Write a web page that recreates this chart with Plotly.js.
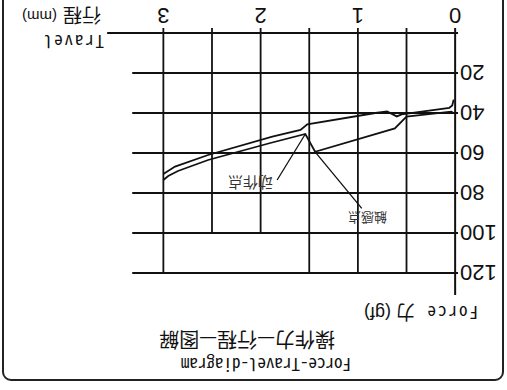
<!DOCTYPE html>
<html><head><meta charset="utf-8">
<script src="https://cdn.plot.ly/plotly-3.0.1.min.js"></script>
<style>
html,body{margin:0;padding:0;background:#fff;overflow:hidden}
#wrap{position:relative;width:507px;height:390px;transform:rotate(180deg);transform-origin:50% 50%;overflow:hidden;background:#fff}
#frame{position:absolute;left:3px;top:9px;width:498px;height:420px;border:2px solid #222;border-radius:9px;box-sizing:content-box}
#chart{position:absolute;left:0;top:0;width:507px;height:390px}
text[data-unformatted="Force"]{letter-spacing:2px}
text[data-unformatted="Travel"]{letter-spacing:1.8px}
</style>
</head><body>
<div id="wrap"><div id="frame"></div><div id="chart"></div></div>
<script>
// ---- data (travel in mm, force in gf) ----
const pressTravel   = [0.015, 0.04, 0.50, 0.62, 1.44, 1.54, 1.90, 2.54, 2.85, 2.95, 3.00];
const pressForce    = [40.0, 39.3, 41.8, 47.7, 59.4, 50.5, 55.0, 63.5, 69.0, 71.5, 73.5];
const releaseTravel = [0.015, 0.03, 0.06, 0.55, 0.60, 0.70, 0.82, 1.52, 1.59, 1.88, 2.54, 2.88, 3.00];
const releaseForce  = [33.3, 36.2, 37.4, 40.7, 41.7, 39.2, 40.0, 45.7, 48.5, 51.8, 61.0, 66.8, 70.5];
const actLeaderTravel = [1.54, 1.83];
const actLeaderForce  = [50.5, 73.5];
const tacLeaderTravel = [1.44, 0.96];
const tacLeaderForce  = [59.4, 87.7];
const labelTexts  = ['动作点', '触感点'];
const labelTravel = [2.106, 0.899];
const labelForce  = [75.5, 92.75];
const xTickVals = [0, 1, 2, 3];
const xTickText = ['0', '1', '2', '3'];
const yTickVals = [20, 40, 60, 80, 100, 120];
const yTickText = ['20', '40', '60', '80', '100', '120'];
const gridTravel = [0.5, 1, 1.5, 2, 2.5, 3];
const gridTravelTop = [120, 120, 120, 100, 100, 120];
const gridForce = [20, 40, 60, 80, 100, 120];
const titleEn = 'Force-Travel-diagram';
const titleZh = '操作力—行程—图解';

// ---- layout geometry ----
const L = 47.13, W = 355.3, T = 93, H = 272;
const px = x => (x - L) / W;
const py = y => (T + H - y) / H;
const INK = '#111';
const mono = 'Noto Sans Mono CJK SC, DejaVu Sans Mono, monospace';
const cjk = 'Noto Sans CJK SC, sans-serif';
const sans = 'Liberation Sans, Arial, sans-serif';

const shapes = [];
gridForce.forEach(f => shapes.push({type:'line', xref:'x', yref:'y', x0:-0.03, x1:3.32, y0:f, y1:f, layer:'below', line:{color:INK, width:1.8}}));
gridTravel.forEach((t, i) => shapes.push({type:'line', xref:'x', yref:'y', x0:t, x1:t, y0:-2.5, y1:gridTravelTop[i], layer:'below', line:{color:INK, width:1.8}}));
shapes.push({type:'line', xref:'x', yref:'y', x0:-0.03, x1:3.578, y0:0, y1:0, layer:'below', line:{color:INK, width:2}});
shapes.push({type:'line', xref:'x', yref:'y', x0:0, x1:0, y0:-2.5, y1:131, layer:'below', line:{color:INK, width:2}});

const lineStyle = {color:INK, width:1.8, shape:'linear'};
const traces = [
  {x:pressTravel, y:pressForce, mode:'lines', line:lineStyle, hoverinfo:'skip'},
  {x:releaseTravel, y:releaseForce, mode:'lines', line:lineStyle, hoverinfo:'skip'},
  {x:actLeaderTravel, y:actLeaderForce, mode:'lines', line:{color:INK, width:1.3}, hoverinfo:'skip'},
  {x:tacLeaderTravel, y:tacLeaderForce, mode:'lines', line:{color:INK, width:1.3}, hoverinfo:'skip'}
];

const ann = (text, x, y, family, size, extra) => Object.assign({text, x, y, xref:'paper', yref:'paper', xanchor:'left', yanchor:'middle', showarrow:false, font:{family, size, color:INK}}, extra || {});
const annotations = [
  ann(titleEn, px(154), py(24.5), mono, 17),
  ann(titleZh, px(170), py(50), cjk, 20),
  ann('Force', px(27), py(76.5), mono, 17),
  ann('力', px(90), py(76.5), cjk, 19),
  ann('(gf)', px(114), py(76.5), sans, 18),
  ann('Travel', px(401), py(347.5), mono, 17),
  ann('行程', px(404), py(373.5), cjk, 19),
  ann('(mm)', px(448), py(373.5), sans, 15)
];
labelTexts.forEach((t, i) => annotations.push({text:t, x:labelTravel[i], y:labelForce[i], xref:'x', yref:'y', xanchor:'center', yanchor:'middle', showarrow:false, font:{family:cjk, size:i === 0 ? 15 : 13, color:'#333'}}));

const tickFont = {family:'Liberation Sans, Arial, sans-serif', size:22, color:INK};
const layout = {
  width:507, height:390,
  margin:{l:L, r:507 - L - W, t:T, b:390 - T - H, pad:0},
  paper_bgcolor:'rgba(0,0,0,0)', plot_bgcolor:'rgba(0,0,0,0)',
  showlegend:false,
  xaxis:{range:[-0.05, 3.6], showgrid:false, zeroline:false, showline:false, ticks:'', tickvals:xTickVals, ticktext:xTickText, tickfont:tickFont, ticklabelstandoff:-6, fixedrange:true},
  yaxis:{range:[-4, 132], showgrid:false, zeroline:false, showline:false, ticks:'', tickvals:yTickVals, ticktext:yTickText, tickfont:tickFont, ticklabelstandoff:-1, fixedrange:true},
  shapes, annotations
};
Plotly.newPlot('chart', traces, layout, {displayModeBar:false, staticPlot:true});
</script>
</body></html>
